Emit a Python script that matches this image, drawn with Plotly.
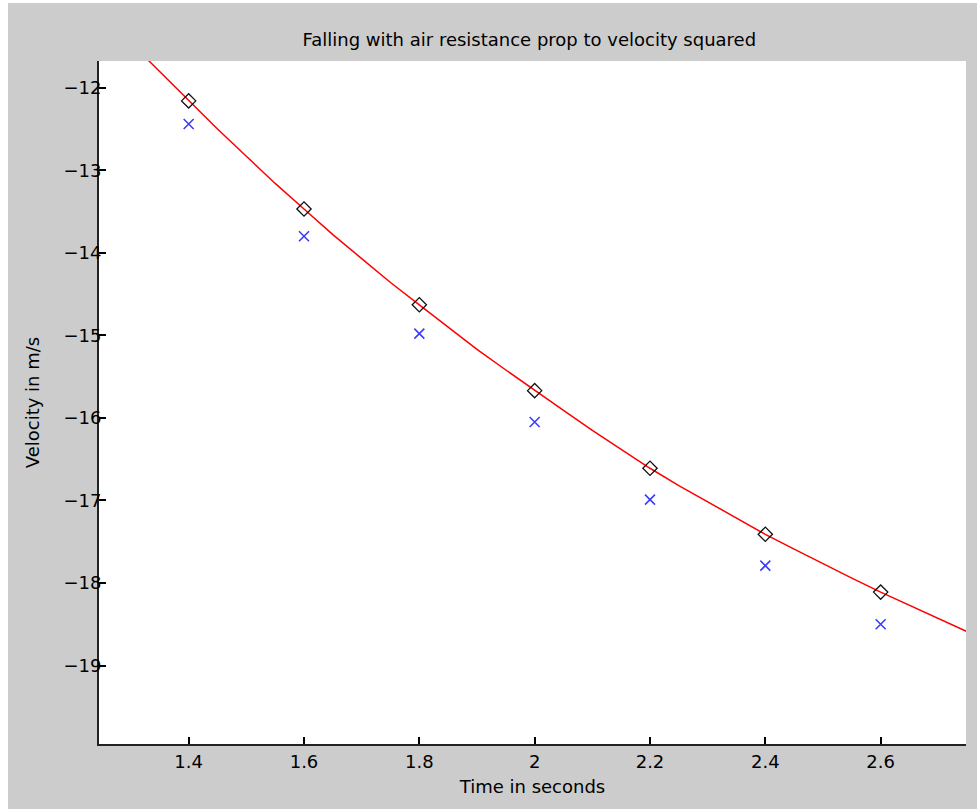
import plotly.graph_objects as go

t_pts = [1.4, 1.6, 1.8, 2.0, 2.2, 2.4, 2.6]
v_model = [-12.16, -13.47, -14.63, -15.67, -16.61, -17.41, -18.11]
v_data = [-12.44, -13.80, -14.98, -16.05, -16.99, -17.79, -18.50]

t_curve = [1.30, 1.35, 1.40, 1.45, 1.50, 1.55, 1.60, 1.65, 1.70, 1.75, 1.80, 1.85,
           1.90, 1.95, 2.00, 2.05, 2.10, 2.15, 2.20, 2.25, 2.30, 2.35, 2.40, 2.45,
           2.50, 2.55, 2.60, 2.65, 2.70, 2.75]
v_curve = [-11.46, -11.81, -12.16, -12.50, -12.83, -13.16, -13.47, -13.78, -14.07,
           -14.36, -14.63, -14.90, -15.17, -15.42, -15.67, -15.91, -16.15, -16.38,
           -16.61, -16.82, -17.02, -17.22, -17.41, -17.59, -17.77, -17.94, -18.11,
           -18.27, -18.43, -18.59]

x_ticks = [1.4, 1.6, 1.8, 2.0, 2.2, 2.4, 2.6]
x_tick_text = ["1.4", "1.6", "1.8", "2", "2.2", "2.4", "2.6"]
y_ticks = [-12, -13, -14, -15, -16, -17, -18, -19]
y_tick_text = ["\u221212", "\u221213", "\u221214", "\u221215", "\u221216", "\u221217", "\u221218", "\u221219"]

font_family = "DejaVu Sans, Liberation Sans, sans-serif"

fig = go.Figure()
fig.add_trace(go.Scatter(x=t_curve, y=v_curve, mode="lines",
                         line=dict(color="#ff0000", width=1.5), showlegend=False))
fig.add_trace(go.Scatter(x=t_pts, y=v_model, mode="markers",
                         marker=dict(symbol="diamond-open", size=11, color="#111111",
                                     line=dict(width=1.3)), showlegend=False))
fig.add_trace(go.Scatter(x=t_pts, y=v_data, mode="markers",
                         marker=dict(symbol="x-thin-open", size=10, color="#3c3cff",
                                     line=dict(width=1.6, color="#3c3cff")), showlegend=False))

fig.update_layout(
    width=969, height=806,
    paper_bgcolor="#cccccc", plot_bgcolor="#ffffff",
    margin=dict(l=91, r=11, t=58, b=65),
    font=dict(family=font_family, size=17, color="#000000"),
    title=dict(text="Falling with air resistance prop to velocity squared",
               x=0.538, xanchor="center", y=0.955, yanchor="middle",
               font=dict(size=18)),
    xaxis=dict(range=[1.2445, 2.748], tickvals=x_ticks, ticktext=x_tick_text,
               ticks="inside", ticklen=7, tickwidth=1.5, tickcolor="#000000",
               showline=True, linecolor="#222222", linewidth=2, mirror=False,
               showgrid=False, zeroline=False,
               title=dict(text="Time in seconds", font=dict(size=18), standoff=10),
               tickfont=dict(size=18)),
    yaxis=dict(range=[-19.95, -11.677], tickvals=y_ticks, ticktext=y_tick_text,
               ticks="inside", ticklen=7, tickwidth=1.5, tickcolor="#000000",
               showline=True, linecolor="#222222", linewidth=2, mirror=False,
               showgrid=False, zeroline=False, ticklabelstandoff=-8,
               title=dict(text="Velocity in m/s", font=dict(size=18), standoff=19),
               tickfont=dict(size=18)),
)

fig.write_html("out.html",
               post_script="document.body.style.margin='3px 0 0 8px';")
